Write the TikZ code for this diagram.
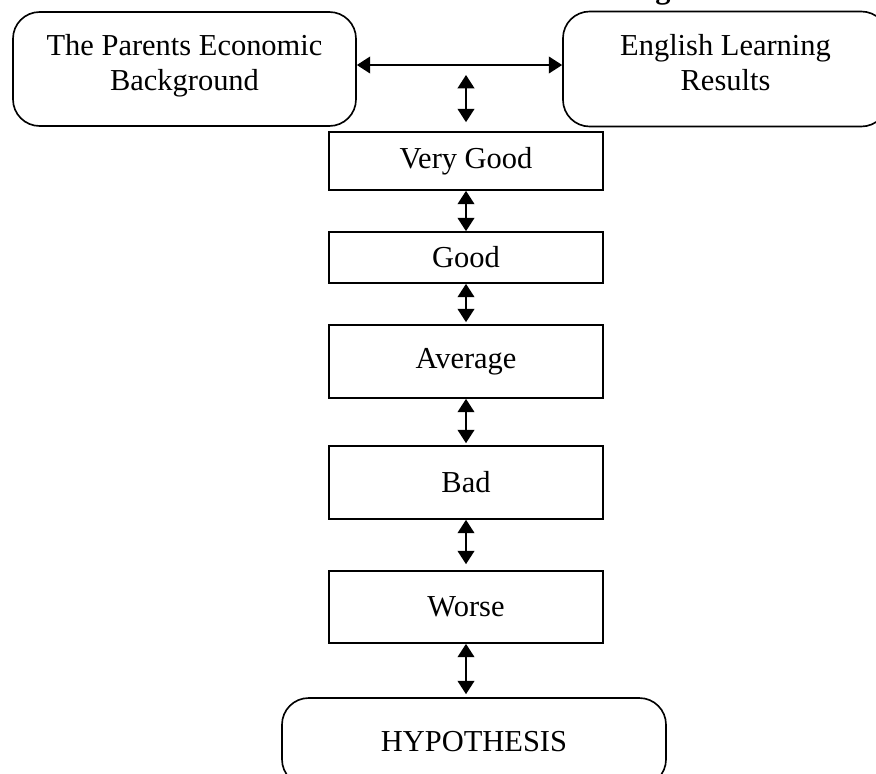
\documentclass[tikz,border=0pt]{standalone}
\usepackage{fontspec}
\setmainfont{Liberation Serif}
\usetikzlibrary{arrows.meta}
\tikzset{rb/.style = {rounded corners=0.8cm, line width=1.4pt, inner sep=0pt, align=center, draw},
           bx/.style = {minimum width=8.22cm, line width=1.4pt, inner sep=0pt, draw},
           lk/.style = {line width=1.6pt, {Triangle[length=0.4cm, width=0.5cm]}-{Triangle[length=0.4cm, width=0.5cm]}}}

\begin{document}
\begin{tikzpicture}[x=0.03cm, y=-0.03cm, font=\fontsize{26}{30}\selectfont]
    \useasboundingbox (0,0) rectangle (876,773);
    \node[anchor=base, font=\fontsize{26}{30}\selectfont\bfseries] (hd) at (663,-2) {g};
    \node[rb, minimum width=10.29cm, minimum height=3.42cm] (par) at (184.5,69) {The Parents Economic\\Background\\[-0.66cm]};
    \node[rb, minimum width=9.75cm, minimum height=3.45cm] (eng) at (725.5,69) {English Learning\\Results\\[-0.66cm]};
    \node[bx, minimum height=1.74cm] (vg) at (466,161) {Very Good};
    \node[bx, minimum height=1.53cm] (gd) at (466,257.5) {Good};
    \node[bx, minimum height=2.19cm] (avg) at (466,361.5) {Average};
    \node[bx, minimum height=2.19cm] (bad) at (466,482.5) {Bad};
    \node[bx, minimum height=2.16cm] (wor) at (466,607) {Worse};
    \node[rb, minimum width=11.52cm, minimum height=2.64cm] (hyp) at (474,742) {HYPOTHESIS};
    \coordinate (top) at (466,75);
    \draw[lk] ([yshift=0.12cm]par.east) -- ([yshift=0.12cm]eng.west);
    \draw[lk, shorten >=0.27cm] (top) -- (vg.north);
    \draw[lk] (vg) -- (gd);
    \draw[lk, shorten >=0.06cm] (gd) -- (avg);
    \draw[lk, shorten >=0.06cm] (avg) -- (bad);
    \draw[lk, shorten >=0.18cm] (bad) -- (wor);
    \draw[lk, shorten >=0.09cm] (wor.south) -- (wor.south |- hyp.north);
\end{tikzpicture}
\end{document}
